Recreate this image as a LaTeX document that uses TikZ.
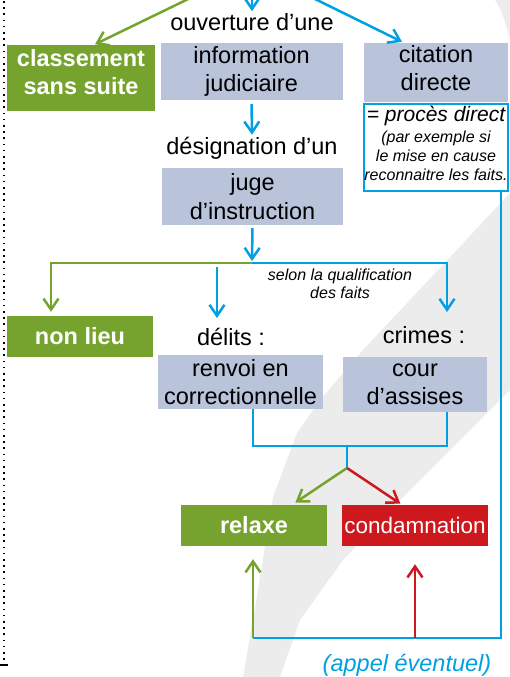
\documentclass[tikz,border=0pt]{standalone}
\usepackage{fontspec}
\setmainfont{Liberation Sans}
\usetikzlibrary{arrows.meta}

\definecolor{boxgrey}{RGB}{185,196,218}
\definecolor{jgreen}{RGB}{118,163,45}
\definecolor{jblue}{RGB}{0,160,227}
\definecolor{jred}{RGB}{205,25,30}
\definecolor{wmgrey}{RGB}{236,236,236}

\newcommand{\bigtxt}{\fontsize{23.5}{28.5}\selectfont}
\newcommand{\smalltxt}{\fontsize{16}{19}\selectfont}

\tikzset{
    greybox/.style={fill=boxgrey, inner sep=0pt, align=center, font=\bigtxt},
    greenbox/.style={fill=jgreen, text=white, inner sep=0pt, align=center, font=\bigtxt\bfseries},
    redbox/.style={fill=jred, text=white, inner sep=0pt, align=center, font=\bigtxt},
    plaintxt/.style={inner sep=2pt, align=center, font=\bigtxt},
    bline/.style={draw=jblue, line width=2.5pt},
    barrow/.style={bline, ->},
    garrow/.style={draw=jgreen, line width=2.5pt, ->},
    rarrow/.style={draw=jred, line width=2.5pt, ->}
}

\begin{document}
\begin{tikzpicture}[x=1pt, y=-1pt, >={Straight Barb[length=11pt, width=15pt]}]
    \clip (0,0) rectangle (510,677);
    \fill[white] (0,0) rectangle (510,677);

    \fill[wmgrey] (243,677) -- (258,590) -- (273,497) -- (297,433) -- (320,400) -- (363,350)
        -- (440,268) -- (510,193) -- (510,390) -- (400,500) -- (343,560) -- (300,620)
        -- (280,677) -- cycle;
    \fill[wmgrey] (495,0) .. controls (502,12) .. (510,38) -- (510,0) -- cycle;

    \draw[line width=1.6pt, dash pattern=on 1.6pt off 4.6pt] (4,1) -- (4,662);
    \draw[line width=1.5pt] (0,665) -- (8,665);

    \coordinate (src) at (252,-32);
    \node[plaintxt] (ouv) at (252,22) {ouverture d’une};
    \node[greybox, minimum width=182pt, minimum height=57pt] (info) at (251.5,71.5) {information\\judiciaire};
    \node[greenbox, minimum width=148pt, minimum height=65pt] (classement) at (81,78) {};
    \node[greenbox] (classementtxt) at (81,72) {classement\\sans suite};
    \node[greybox, minimum width=144pt, minimum height=59pt] (citation) at (436,72.5) {};
    \node[greybox] (citationtxt) at (436,68) {citation\\directe};
    \node[draw=jblue, line width=1.3pt, minimum width=144pt, minimum height=87pt] (proces) at (436,147.5) {};
    \node[inner sep=0pt, align=center, font=\smalltxt\itshape] (procestxt) at (436,143.5)
        {{\fontsize{21}{22}\selectfont = procès direct}\\[2pt](par exemple si\\le mise en cause\\reconnaitre les faits.};

    \node[plaintxt] (desig) at (252,148) {désignation d’un};
    \node[greybox, minimum width=181pt, minimum height=57pt] (juge) at (252.5,196.5) {juge\\d’instruction};

    \coordinate (split) at (252,263);
    \node[inner sep=0pt, align=center, font=\fontsize{16}{18}\selectfont\itshape] (selon) at (340,284) {selon la qualification\\des faits};

    \node[greenbox, minimum width=146pt, minimum height=41pt] (nonlieu) at (80,336.5) {non lieu};
    \node[plaintxt] (delits) at (231,337) {délits :};
    \node[greybox, minimum width=165pt, minimum height=54pt] (renvoi) at (240.5,382) {renvoi en\\correctionnelle};
    \node[plaintxt] (crimes) at (424,335) {crimes :};
    \node[greybox, minimum width=144pt, minimum height=55pt] (cour) at (415,384.5) {cour\\d’assises};

    \coordinate (delitsout) at (217,267);
    \coordinate (delitsin) at (217,318);
    \coordinate (crimesin) at (447,312);

    \coordinate (brl) at (253,446);
    \coordinate (brr) at (447,446);
    \coordinate (stem) at (347,446);
    \coordinate (fork) at (347,468);

    \node[greenbox, minimum width=146pt, minimum height=41pt] (relaxe) at (254,525.5) {relaxe};
    \node[redbox, minimum width=146pt, minimum height=41pt, font=\fontsize{22.5}{27}\selectfont] (condamn) at (415,525.5) {condamnation};

    \coordinate (appl) at (253,638);
    \coordinate (appr) at (415,638);
    \node[inner sep=0pt, text=jblue, font=\bigtxt\itshape] (appel) at (407,665) {(appel éventuel)};

    \draw[garrow] (src) -- ([xshift=14pt, yshift=1pt]classement.north);
    \draw[barrow] (src) -- ([xshift=-34pt, yshift=1pt]citation.north);
    \draw[barrow] (src) -- (ouv.north);
    \draw[barrow, shorten <=4pt] (info.south) -- (desig.north);
    \draw[barrow, shorten <=3pt, shorten >=2pt] (juge.south) -- (split);

    \draw[garrow, shorten >=4pt] (split) -| ([xshift=-29pt]nonlieu.north);
    \draw[barrow] (split) -| (crimesin);
    \draw[barrow] (delitsout) -- (delitsin);

    \draw[bline] ([xshift=12.5pt]renvoi.south) -- (brl) -- (brr) -- ([xshift=32pt]cour.south);
    \draw[bline] (stem) -- (fork);
    \draw[garrow, shorten >=4pt] (fork) -- ([xshift=38pt]relaxe.north);
    \draw[rarrow, shorten >=2pt] (fork) -- ([xshift=-13pt]condamn.north);

    \draw[bline] ([xshift=65pt]proces.south) |- (appl);
    \draw[garrow, shorten >=13pt] (appl) -- (relaxe.south -| appl);
    \draw[rarrow, shorten >=18pt] (appr) -- (condamn.south);
\end{tikzpicture}
\end{document}
